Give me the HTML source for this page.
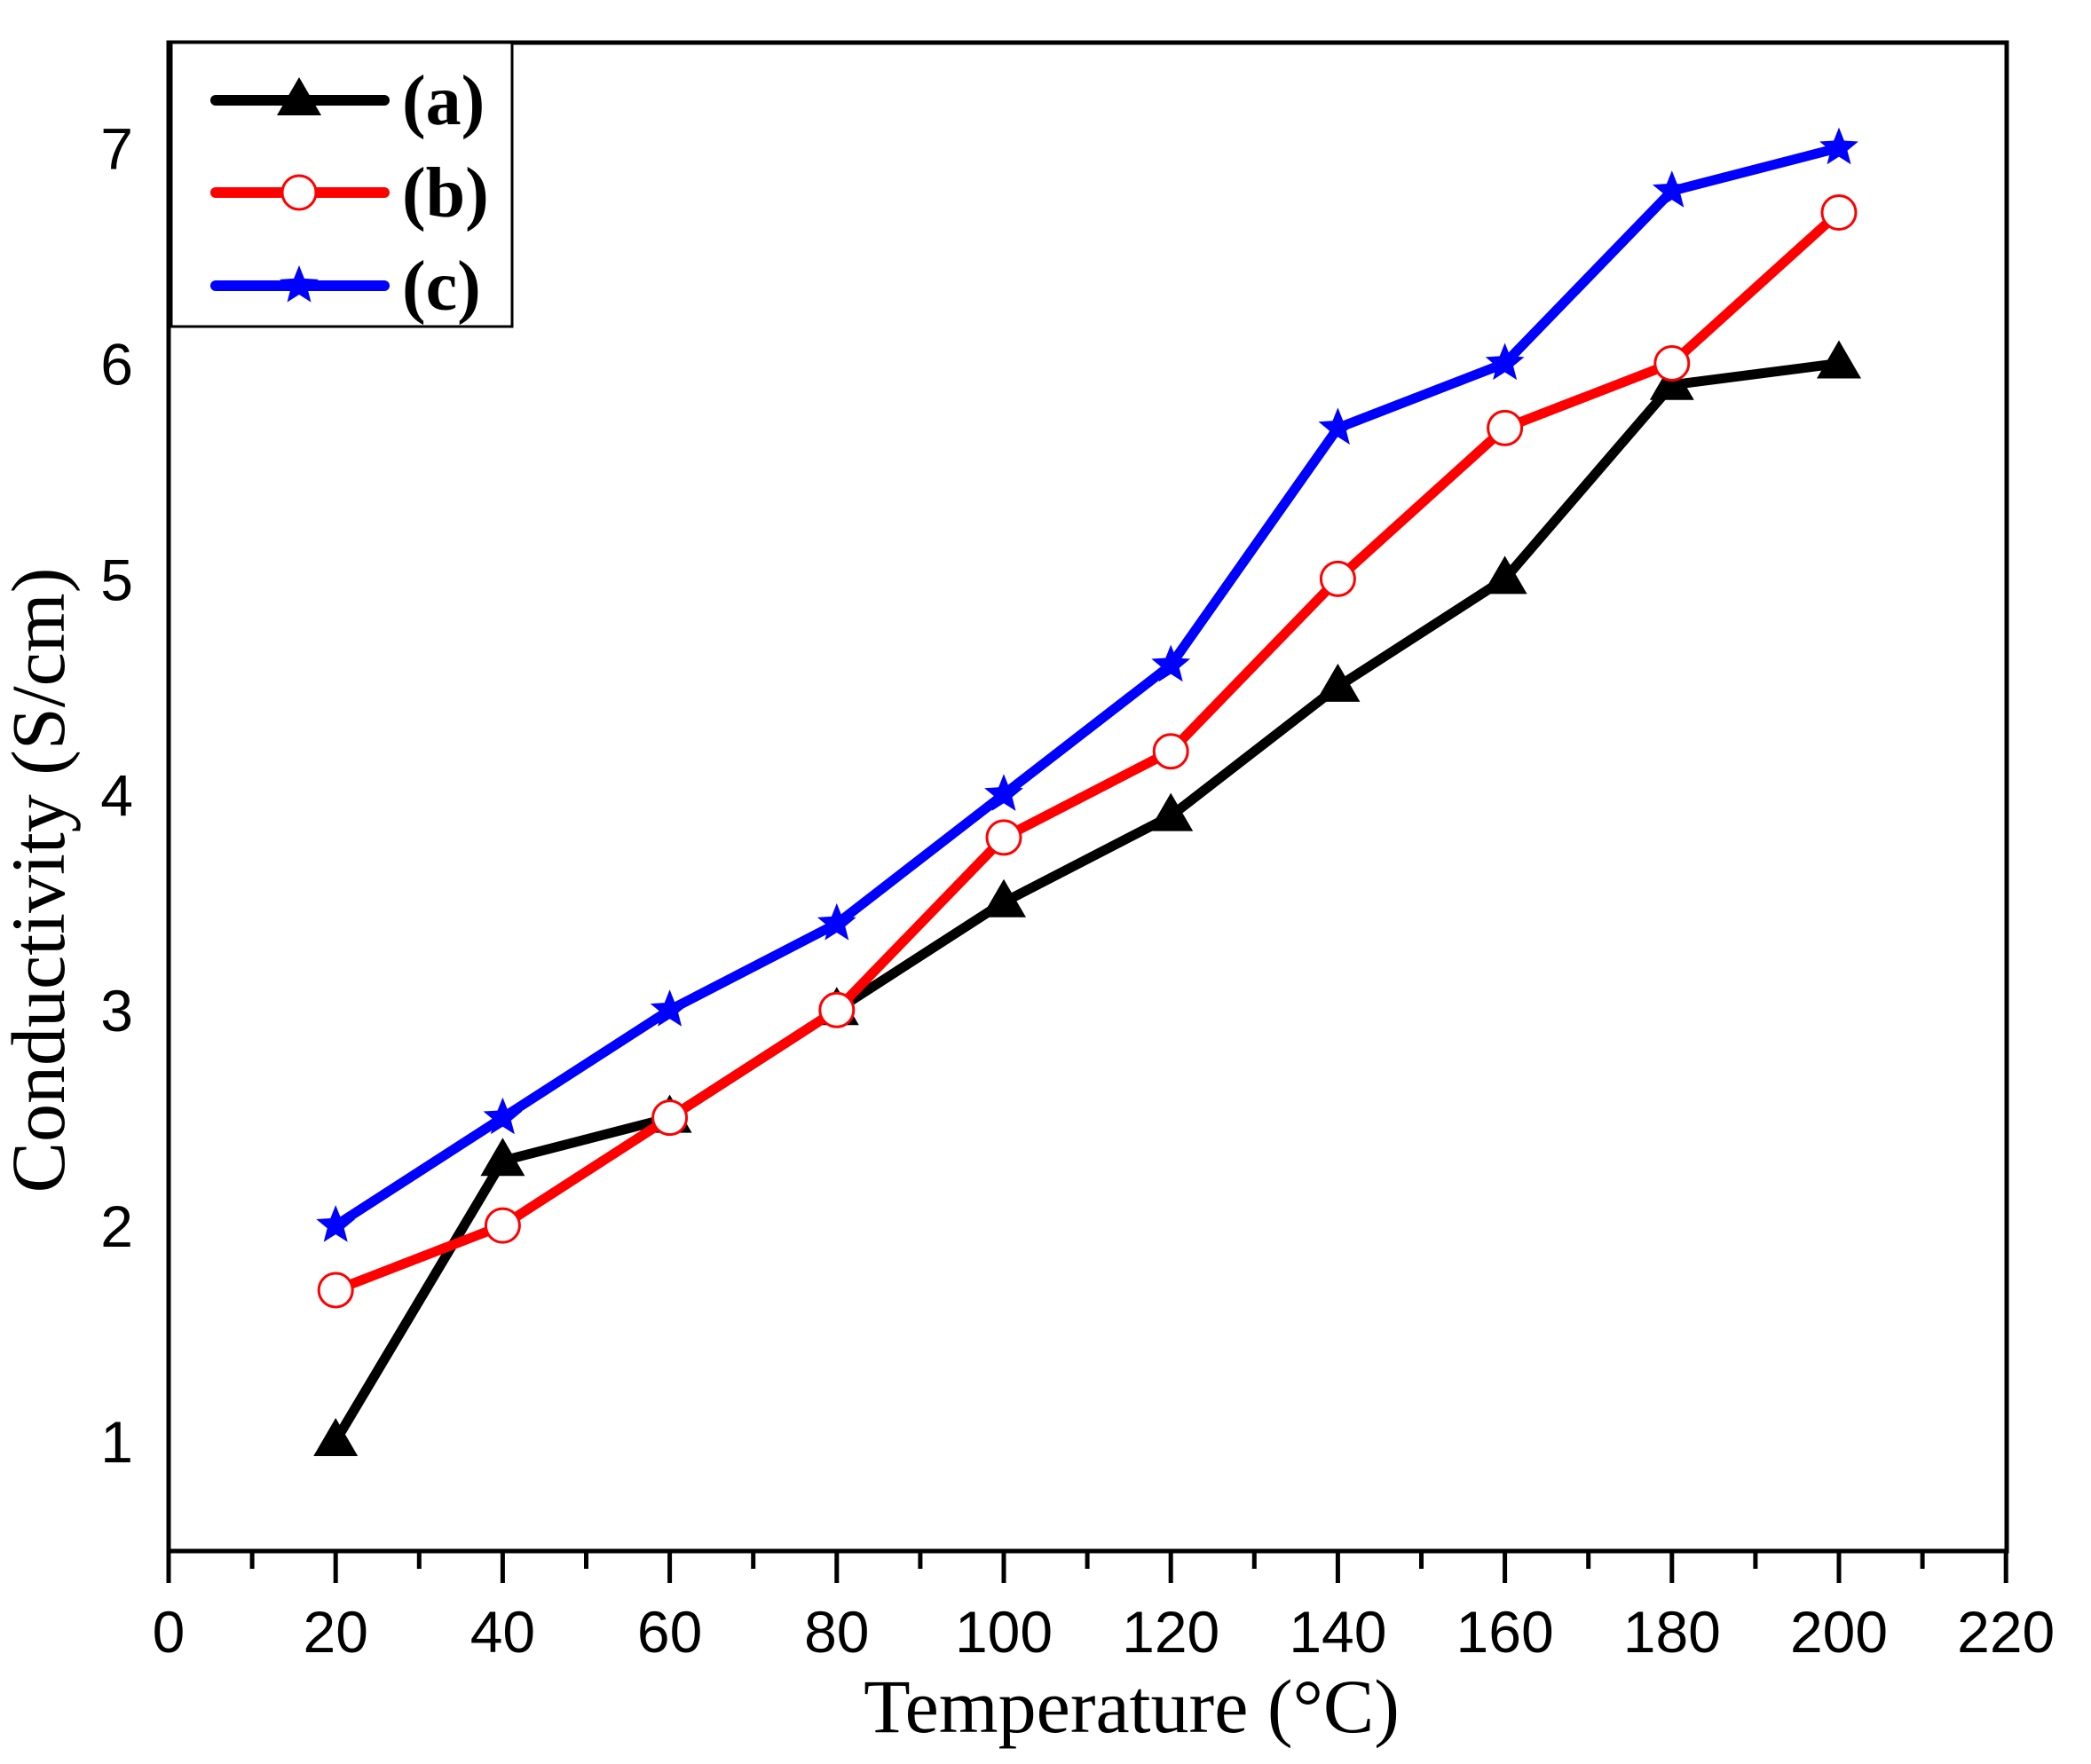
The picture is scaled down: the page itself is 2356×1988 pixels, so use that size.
<!DOCTYPE html>
<html><head><meta charset="utf-8"><style>
html,body{margin:0;padding:0;background:#fff;}
svg{display:block;}
</style></head><body>
<svg id="s" width="2356" height="1988" viewBox="0 0 2356 1988" xmlns="http://www.w3.org/2000/svg">
<rect x="0" y="0" width="2356" height="1988" fill="#fff"/>
<g id="g"></g>
</svg>
<script>
const X=x=>190+x*9.41, Y=y=>1624-(y-1)*242.9;
const xs=[20,40,60,80,100,120,140,160,180,200];
const A=[1,2.3,2.5,3,3.5,3.9,4.5,5,5.9,6];
const B=[1.7,2,2.5,3,3.8,4.2,5,5.7,6,6.7];
const C=[2,2.5,3,3.4,4,4.6,5.7,6,6.8,7];
let h='';
h+='<rect x="190" y="48" width="2071" height="1700" fill="none" stroke="#000" stroke-width="5"/>';
for(let v=0;v<=220;v+=10){const x=X(v);const L=(v%20==0)?36:20;
 h+=`<line x1="${x}" y1="1748" x2="${x}" y2="${1748+L}" stroke="#000" stroke-width="5"/>`;
 if(v%20==0) h+=`<text x="${x}" y="1862" font-family="Liberation Sans,sans-serif" font-size="66" text-anchor="middle">${v}</text>`;}
for(let v=1;v<=7;v++){h+=`<text x="150" y="${Y(v)+24}" font-family="Liberation Sans,sans-serif" font-size="66" text-anchor="end">${v}</text>`;}
h+='<text x="1275" y="1952" font-family="Liberation Serif,serif" font-size="86" text-anchor="middle">Temperature (°C)</text>';
h+='<text transform="translate(72,992) rotate(-90)" font-family="Liberation Serif,serif" font-size="86" text-anchor="middle">Conductivity (S/cm)</text>';
function tri(x,y,s){return `<polygon points="${x},${y-26} ${x-25},${y+17} ${x+25},${y+17}" fill="#000"/>`;}
function circ(x,y){return `<circle cx="${x}" cy="${y}" r="19" fill="#fff" stroke="#f00" stroke-width="3"/>`;}
function star(x,y){let p=[];for(let i=0;i<10;i++){const r=i%2?10:23;const a=-Math.PI/2+i*Math.PI/5;p.push((x+r*Math.cos(a)).toFixed(1)+','+(y+r*Math.sin(a)).toFixed(1));}return `<polygon points="${p.join(' ')}" fill="#00f"/>`;}
function series(d,col,mk){let pts=xs.map((x,i)=>X(x)+','+Y(d[i])).join(' ');
 let s=`<polyline points="${pts}" fill="none" stroke="${col}" stroke-width="11" stroke-linejoin="round"/>`;
 xs.forEach((x,i)=>s+=mk(X(x),Y(d[i])));return s;}
h+=series(A,'#000',tri);
h+=series(C,'#00f',star);
h+=series(B,'#f00',circ);
h+='<rect x="193" y="48" width="384" height="320" fill="#fff" stroke="#000" stroke-width="3"/>';
const L=[[113,'#000',tri,'(a)'],[217,'#f00',circ,'(b)'],[322,'#00f',star,'(c)']];
L.forEach(([y,c,m,t])=>{h+=`<line x1="243" y1="${y}" x2="433" y2="${y}" stroke="${c}" stroke-width="12" stroke-linecap="round"/>`+m(337,y)+
`<text x="453" y="${y+27}" font-family="Liberation Serif,serif" font-weight="bold" font-size="80">${t}</text>`;});
document.getElementById('g').innerHTML=h;
</script>
</body></html>
